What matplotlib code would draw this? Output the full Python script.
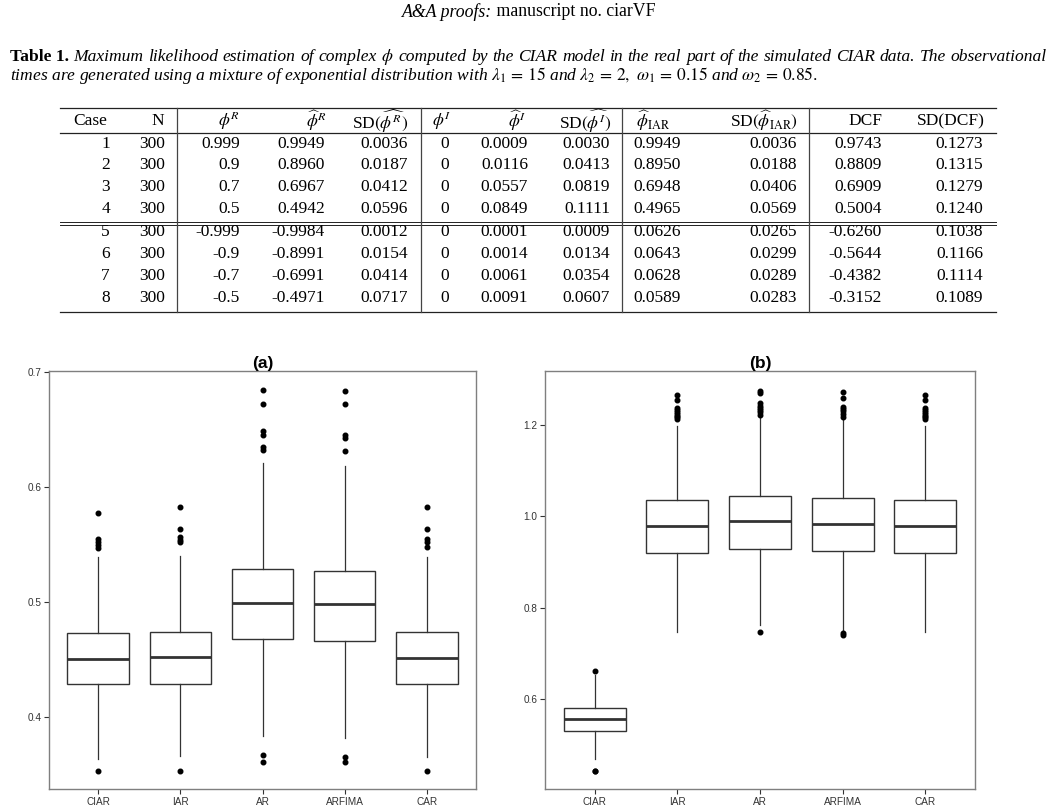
import matplotlib

matplotlib.use("Agg")
import matplotlib.pyplot as plt
from matplotlib.lines import Line2D

W, H = 1057, 811

plt.rcParams["mathtext.fontset"] = "stix"
SERIF = "Liberation Serif"
SANS = "Liberation Sans"

# ---- Table 1 values ----
cases = ["1", "2", "3", "4", "5", "6", "7", "8"]
n_obs = ["300", "300", "300", "300", "300", "300", "300", "300"]
phi_r = ["0.999", "0.9", "0.7", "0.5", "-0.999", "-0.9", "-0.7", "-0.5"]
phi_r_hat = ["0.9949", "0.8960", "0.6967", "0.4942", "-0.9984", "-0.8991", "-0.6991", "-0.4971"]
sd_phi_r = ["0.0036", "0.0187", "0.0412", "0.0596", "0.0012", "0.0154", "0.0414", "0.0717"]
phi_i = ["0", "0", "0", "0", "0", "0", "0", "0"]
phi_i_hat = ["0.0009", "0.0116", "0.0557", "0.0849", "0.0001", "0.0014", "0.0061", "0.0091"]
sd_phi_i = ["0.0030", "0.0413", "0.0819", "0.1111", "0.0009", "0.0134", "0.0354", "0.0607"]
phi_iar = ["0.9949", "0.8950", "0.6948", "0.4965", "0.0626", "0.0643", "0.0628", "0.0589"]
sd_phi_iar = ["0.0036", "0.0188", "0.0406", "0.0569", "0.0265", "0.0299", "0.0289", "0.0283"]
dcf = ["0.9743", "0.8809", "0.6909", "0.5004", "-0.6260", "-0.5644", "-0.4382", "-0.3152"]
sd_dcf = ["0.1273", "0.1315", "0.1279", "0.1240", "0.1038", "0.1166", "0.1114", "0.1089"]

headers = ["Case", "N", r"$\phi^R$", r"$\widehat{\phi}^R$", r"SD$(\widehat{\phi^R})$",
           r"$\phi^I$", r"$\widehat{\phi}^I$", r"SD$(\widehat{\phi^I})$",
           r"$\widehat{\phi}_{\mathrm{IAR}}$", r"SD$(\widehat{\phi}_{\mathrm{IAR}})$",
           "DCF", "SD(DCF)"]

# ---- boxplot summaries ----
models = ["CIAR", "IAR", "AR", "ARFIMA", "CAR"]

a_q1 = [0.4284, 0.4284, 0.4676, 0.4658, 0.4284]
a_med = [0.4507, 0.4519, 0.4991, 0.4980, 0.4513]
a_q3 = [0.4733, 0.4742, 0.5287, 0.5270, 0.4739]
a_lo = [0.3632, 0.3661, 0.3835, 0.3820, 0.3655]
a_hi = [0.5394, 0.5400, 0.6211, 0.6183, 0.5394]
a_out = [
    [0.5777, 0.5548, 0.5524, 0.5496, 0.5467, 0.3533],
    [0.5829, 0.5635, 0.5568, 0.5539, 0.5519, 0.3533],
    [0.6843, 0.6722, 0.6490, 0.6452, 0.6350, 0.6322, 0.3672, 0.3609],
    [0.6835, 0.6722, 0.6452, 0.6423, 0.6316, 0.3655, 0.3609],
    [0.5829, 0.5635, 0.5548, 0.5519, 0.5481, 0.3533],
]

b_q1 = [0.5306, 0.9183, 0.9271, 0.9233, 0.9183]
b_med = [0.5568, 0.9788, 0.9883, 0.9825, 0.9788]
b_q3 = [0.5809, 1.0344, 1.0445, 1.0401, 1.0344]
b_lo = [0.4692, 0.7466, 0.7628, 0.7518, 0.7466]
b_hi = [0.6517, 1.1972, 1.2198, 1.2140, 1.1972]
b_out = [
    [0.6605, 0.4430, 0.4415],
    [1.2651, 1.2541, 1.2373, 1.2320, 1.2280, 1.2240, 1.2200, 1.2160, 1.2118],
    [1.2738, 1.2687, 1.2469, 1.2420, 1.2370, 1.2320, 1.2270, 1.2212, 0.7459],
    [1.2709, 1.2578, 1.2395, 1.2340, 1.2290, 1.2240, 1.2162, 0.7452, 0.7409],
    [1.2651, 1.2541, 1.2373, 1.2320, 1.2280, 1.2240, 1.2200, 1.2160, 1.2118],
]

caption_1 = (r"Maximum likelihood estimation of complex $\phi$ computed by the CIAR model "
             "in the real part of the simulated CIAR data. The observational")
caption_2 = (r"times are generated using a mixture of exponential distribution with "
             r"$\lambda_1\,=\,15$ and $\lambda_2\,=\,2,$ $\omega_1\,=\,0.15$ and $\omega_2\,=\,0.85.$")

fig = plt.figure(figsize=(W / 100, H / 100), dpi=100)
renderer = fig.canvas.get_renderer()


def px(x, y):
    return x / W, 1 - y / H


def put(x, y, s, **kw):
    kw.setdefault("family", SERIF)
    return fig.text(*px(x, y), s, va="center", **kw)


def width(t):
    return t.get_window_extent(renderer).width


def hline(x0, x1, y, lw=0.9):
    fig.add_artist(Line2D([x0 / W, x1 / W], [1 - y / H, 1 - y / H], color="#222222", lw=lw))


def vline(x, y0, y1, lw=0.9):
    fig.add_artist(Line2D([x / W, x / W], [1 - y0 / H, 1 - y1 / H], color="#444444", lw=lw))


# ---- running header ----
t1 = put(0, 12, "A&A proofs:", fontsize=12.8, style="italic")
t2 = put(0, 12, " manuscript no. ciarVF", fontsize=12.8)
w1, w2 = width(t1), width(t2)
x0 = W / 2 - (w1 + w2) / 2
t1.set_x(x0 / W)
t2.set_x((x0 + w1) / W)

# ---- caption (first line justified like the journal page) ----
CAP_FS = 12.6
cb = put(10, 57, "Table 1.", fontsize=CAP_FS, weight="bold")
start = 10 + width(cb)
words = caption_1.split(" ")
arts = [put(0, 57, w, fontsize=CAP_FS, style="italic") for w in words]
widths = [width(a) for a in arts]
right = 1047
gap = (right - start - sum(widths)) / len(words)
xc = start + gap
for a, w in zip(arts, widths):
    a.set_x(xc / W)
    xc += w + gap
put(10, 75.5, caption_2, fontsize=CAP_FS, style="italic")

# ---- table ----
columns = [cases, n_obs, phi_r, phi_r_hat, sd_phi_r, phi_i, phi_i_hat, sd_phi_i,
           phi_iar, sd_phi_iar, dcf, sd_dcf]
col_x = [110, 165, 240, 325, 408, 445, 528, 610, 633, 797, 882, 983]
col_ha = ["right", "right", "right", "right", "right", "center", "right", "right",
          "left", "right", "right", "right"]
head_x = [73, 164, 240, 326, 408, 432, 526, 612, 636, 798, 882, 985]
head_ha = ["left", "right", "right", "right", "right", "left", "right", "right",
           "left", "right", "right", "right"]
row_y = [143.5, 165.2, 186.9, 208.6, 232.0, 254.1, 276.2, 298.3]

for hx, ha, h in zip(head_x, head_ha, headers):
    put(hx, 121, h, fontsize=12.5, ha=ha)
for cx, ha, col in zip(col_x, col_ha, columns):
    for ry, v in zip(row_y, col):
        put(cx, ry, v, fontsize=12.5, ha=ha)

hline(60, 996, 108)
hline(60, 996, 133)
hline(60, 996, 222.5, lw=0.7)
hline(60, 996, 225, lw=0.7)
hline(60, 996, 312)
for vx in [177, 421, 622, 809]:
    vline(vx, 108, 312)


# ---- boxplots ----
def panel(rect, title, q1, med, q3, lo, hi, out, ylim, ticks):
    ax = fig.add_axes(rect)
    stats = []
    for i in range(len(models)):
        stats.append(dict(q1=q1[i], med=med[i], q3=q3[i], whislo=lo[i], whishi=hi[i],
                          fliers=out[i], label=models[i]))
    ax.bxp(stats, positions=range(1, len(models) + 1), widths=0.75, showcaps=False,
           patch_artist=True,
           boxprops=dict(facecolor="white", edgecolor="#333333", linewidth=1.0),
           medianprops=dict(color="#333333", linewidth=2.0),
           whiskerprops=dict(color="#333333", linewidth=0.9),
           flierprops=dict(marker="o", markerfacecolor="black", markeredgecolor="black",
                           markersize=3.3, linestyle="none"))
    ax.set_xlim(0.4, 5.6)
    ax.set_ylim(*ylim)
    ax.set_yticks(ticks)
    ax.set_yticklabels(["%.1f" % t for t in ticks])
    for s in ax.spines.values():
        s.set_color("#7f7f7f")
        s.set_linewidth(1.0)
    ax.tick_params(length=3.5, width=0.8, color="#333333", labelsize=7.2,
                   labelcolor="#333333", pad=2)
    for lab in ax.get_xticklabels() + ax.get_yticklabels():
        lab.set_family(SANS)
    ax.set_title(title, fontsize=12.5, fontweight="bold", family=SANS, pad=0)
    return ax


panel([49 / W, 22 / H, 427 / W, 418 / H], "(a)", a_q1, a_med, a_q3, a_lo, a_hi, a_out,
      (0.3374, 0.7009), [0.4, 0.5, 0.6, 0.7])
panel([545 / W, 22 / H, 430 / W, 418 / H], "(b)", b_q1, b_med, b_q3, b_lo, b_hi, b_out,
      (0.4028, 1.3176), [0.6, 0.8, 1.0, 1.2])

fig.savefig("out.png", dpi=100)
